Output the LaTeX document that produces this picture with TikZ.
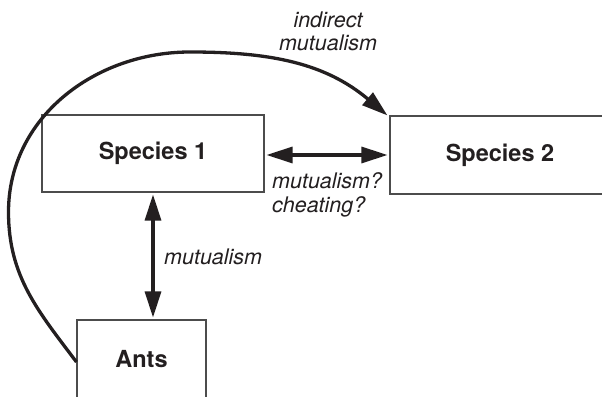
\documentclass[tikz,border=0pt]{standalone}
\usepackage{fontspec}
\setmainfont{TeX Gyre Heros}
\usetikzlibrary{arrows.meta}
\definecolor{ink}{HTML}{231F20}
\tikzset{
  box/.style={draw=black!70, line width=1.1pt, rectangle, minimum height=78pt, text=ink,
    font=\fontsize{23.5}{26}\selectfont\bfseries, inner sep=0pt},
  rel/.style={draw=ink, line width=3.3pt, -{Triangle[length=26pt,width=16pt]}},
  birel/.style={draw=ink, line width=3.3pt, {Triangle[length=26pt,width=16pt]}-{Triangle[length=26pt,width=16pt]}},
  lab/.style={text=ink, font=\fontsize{21.5}{23.5}\selectfont\itshape, inner sep=0pt}
}
\begin{document}
\begin{tikzpicture}[x=1pt,y=1pt]
\useasboundingbox (0,0) rectangle (602,396);
\clip (0,0) rectangle (602,396);
\node[box, minimum width=222pt, minimum height=77pt] (sp1) at (153,242.5) {Species 1};
\node[box, minimum width=220pt] (sp2) at (500,241) {Species 2};
\node[box, minimum width=129pt] (ants) at (141.5,37) {Ants};
\coordinate (cl) at (8.5,184);
\coordinate (ct) at (190,344);
\draw[birel, shorten <=2pt, shorten >=2pt] (sp1.east |- sp2.west) -- (sp2.west);
\draw[birel, shorten <=2pt, shorten >=2pt] (sp1.south) -- (sp1.south |- ants.north);
\draw[rel] ([yshift=-3pt]ants.west) to[out=127,in=-90] (cl) to[out=90,in=180] (ct) to[out=0,in=140] ([xshift=-2pt]sp2.north west);
\node[lab, align=center] (l1) at (328,364.5) {indirect\\mutualism};
\node[lab, align=left, anchor=west] (l2) at (272,201) {mutualism?\\cheating?};
\node[lab, anchor=west] (l3) at (164,139) {mutualism};
\end{tikzpicture}
\end{document}
